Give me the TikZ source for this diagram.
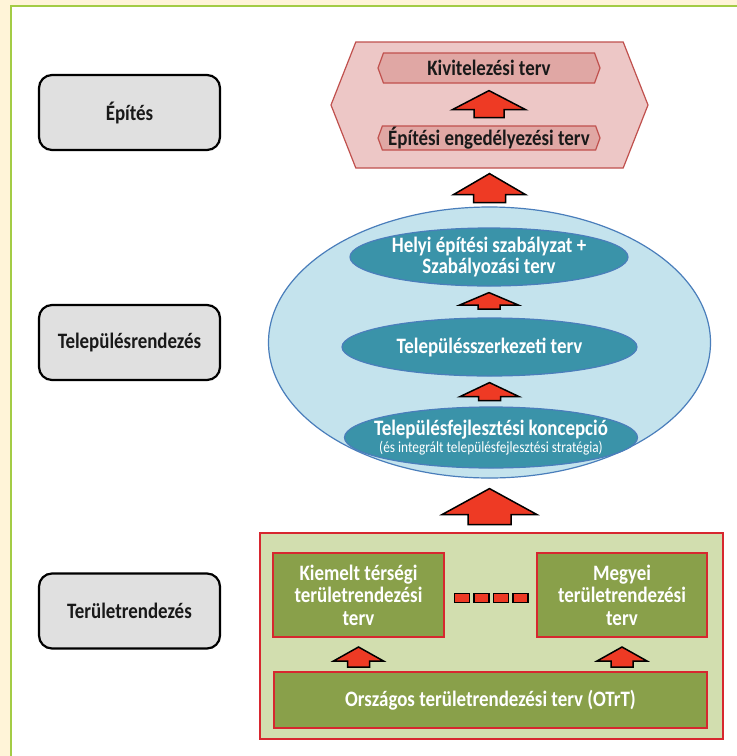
\documentclass[tikz,border=0pt]{standalone}
\usepackage{fontspec}
\setmainfont{Carlito}[FakeStretch=0.86]
\usetikzlibrary{shapes.geometric,shapes.symbols,calc}
\definecolor{cream}{HTML}{FFF4D8}
\definecolor{limeline}{HTML}{A3CC45}
\definecolor{sidegray}{HTML}{E0E0E0}
\definecolor{hexred}{HTML}{C0504D}
\definecolor{hexpink}{HTML}{EDC7C6}
\definecolor{hexrose}{HTML}{E0A7A4}
\definecolor{arrowred}{HTML}{EE3A24}
\definecolor{lightblue}{HTML}{C4E3ED}
\definecolor{ellblue}{HTML}{4A7EBB}
\definecolor{tealfill}{HTML}{3A93A9}
\definecolor{panelgreen}{HTML}{D2DEAF}
\definecolor{panelred}{HTML}{D7272F}
\definecolor{olive}{HTML}{89A04A}

% block arrow pointing up: tip, head half width, head height, shaft half width, shaft length
\newcommand\blockarr[5]{%
  \draw[blockarrow] (#1) -- ++(#2,#3) -- ++(-#2+#4,0) -- ++(0,#5) -- ++(-2*#4,0)
    -- ++(0,-#5) -- ++(-#2+#4,0) -- cycle;}

\begin{document}
\begin{tikzpicture}[x=1pt,y=-1pt,
  sidebox/.style={draw=black,line width=2.2pt,rounded corners=13pt,fill=sidegray,
                  minimum width=181pt,minimum height=75pt,text=black!90,
                  font=\fontsize{22}{22}\selectfont\bfseries},
  hexa/.style={signal,signal to=west and east,signal pointer angle=137,
               draw=hexred,fill=hexpink,line width=1.2pt,inner sep=0pt,
               minimum width=317pt,minimum height=126pt},
  hexbox/.style={signal,signal to=west and east,signal pointer angle=140,
                 draw=hexred,fill=hexrose,line width=1.2pt,inner sep=0pt,
                 minimum width=222pt,text=black!90,
                 font=\fontsize{22}{22}\selectfont\bfseries},
  bigell/.style={ellipse,draw=ellblue,fill=lightblue,line width=1.2pt,
                 minimum width=442pt,minimum height=271pt},
  ellbox/.style={ellipse,draw=ellblue,fill=tealfill,line width=1.2pt,
                 inner xsep=-16pt,inner ysep=0pt,
                 text=white,align=center,
                 font=\fontsize{22}{21.5}\selectfont\bfseries},
  panel/.style={draw=panelred,fill=panelgreen,line width=2pt,
                minimum width=463pt,minimum height=206pt},
  greenbox/.style={draw=panelred,fill=olive,line width=2pt,text=white,align=center,
                   font=\fontsize{22}{22.5}\selectfont\bfseries},
  dashbox/.style={draw=black,fill=arrowred,line width=1.5pt,inner sep=0pt,
                  minimum width=15pt,minimum height=9pt},
  blockarrow/.style={draw=black,fill=arrowred,line width=1.5pt,line join=miter}
]
\useasboundingbox (0,0) rectangle (737,756);
\fill[cream] (0,0) rectangle (737,756);
\fill[white] (11,5.5) rectangle (737,756);
\draw[limeline,line width=2pt] (11,756) -- (11,5.5) -- (737,5.5);

% levels
\node[sidebox] (epites) at (129.5,112.5) {Építés};
\node[sidebox] (telep) at (129.5,342.5) {Településrendezés};
\node[sidebox] (terul) at (129.5,611) {Területrendezés};

% building
\node[hexa] (build) at (489.5,105) {};
\node[hexbox,minimum height=30pt] (kiv) at (489,68) {Kivitelezési terv};
\node[hexbox,minimum height=24pt] (eng) at (489,138) {Építési engedélyezési terv};
\blockarr{$(kiv.south)+(0,7)$}{36.5}{19}{15}{8}
\blockarr{$(build.south)+(0,5)$}{36}{21}{16}{8}

% settlement
\node[bigell] (settle) at (489.5,342.5) {};
\node[ellbox,minimum width=278pt,minimum height=58pt] (helyi) at (489,257)
  {Helyi építési szabályzat +\\Szabályozási terv};
\node[ellbox,minimum width=295pt,minimum height=58pt] (szerk) at (489.5,347)
  {Településszerkezeti terv};
\node[ellbox,minimum width=293pt,minimum height=61pt] (fejl) at (491,437.5)
  {Településfejlesztési koncepció\\[-4pt]{\fontsize{15.5}{16}\selectfont\mdseries (és integrált településfejlesztési stratégia)}};
\blockarr{$(helyi.south)+(0,6)$}{29.5}{12.5}{11}{4}
\blockarr{$(szerk.south)+(0,6)$}{29.5}{14}{11}{4}
\blockarr{$(settle.south)+(0,10)$}{47.5}{26}{21.5}{10}

% regional
\node[panel] (region) at (491.5,636) {};
\node[greenbox,minimum width=171pt,minimum height=84pt] (kiemelt) at (358.5,595)
  {Kiemelt térségi\\területrendezési\\terv};
\node[greenbox,minimum width=170pt,minimum height=84pt] (megyei) at (622,595)
  {Megyei\\területrendezési\\terv};
\node[greenbox,minimum width=433pt,minimum height=56pt] (otrt) at (490.5,700)
  {Országos területrendezési terv (OTrT)};
\foreach \i/\xx in {1/462,2/481.5,3/501,4/520.5}
  \node[dashbox] (dot\i) at (\xx,598) {};
\blockarr{$(kiemelt.south)+(0,9)$}{25}{14}{11}{6}
\blockarr{$(megyei.south)+(0,9)$}{25}{14}{11}{6}
\end{tikzpicture}
\end{document}
